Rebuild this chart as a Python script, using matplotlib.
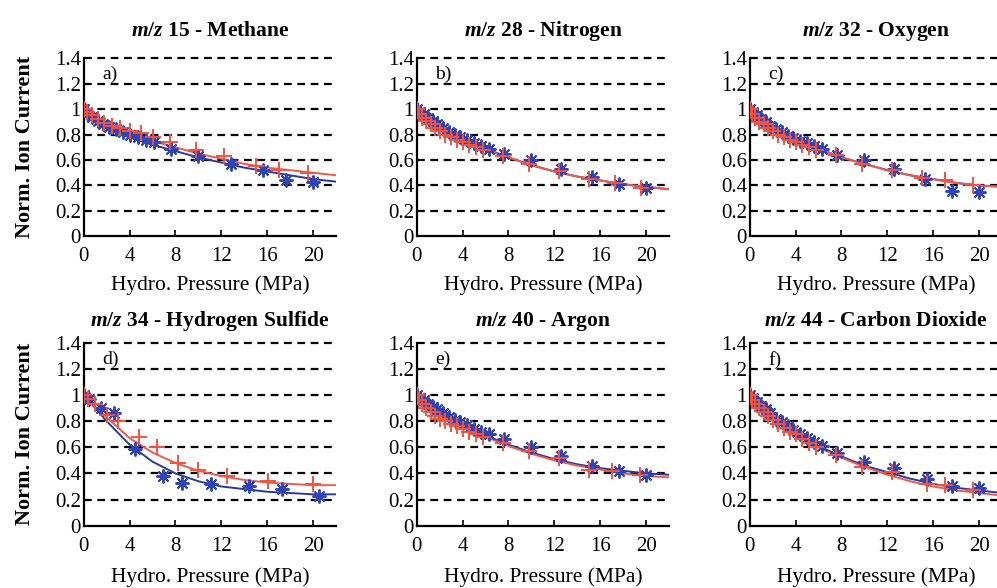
import matplotlib
matplotlib.use("Agg")
import matplotlib.pyplot as plt

plt.rcParams['font.family'] = ['Liberation Serif', 'DejaVu Serif']
plt.rcParams['mathtext.fontset'] = 'custom'
plt.rcParams['mathtext.it'] = 'Liberation Serif:italic:bold'
plt.rcParams['mathtext.rm'] = 'Liberation Serif:bold'

fit_p = [0, 1, 2, 3, 4, 6, 8, 10, 12, 14, 16, 18, 20, 22]

# a) methane
ch4_blue_p = [0, 0.3, 0.7, 1.2, 1.7, 2.2, 2.8, 3.4, 4.0, 4.7, 5.4, 6.1, 7.6, 10.0, 12.8, 15.6, 17.6, 20.0]
ch4_blue_i = [1.00, 0.97, 0.94, 0.91, 0.88, 0.86, 0.84, 0.82, 0.80, 0.78, 0.76, 0.74, 0.69, 0.63, 0.57, 0.52, 0.44, 0.43]
ch4_red_p = [0, 0.3, 0.7, 1.2, 1.8, 2.5, 3.2, 4.0, 5.0, 6.0, 7.5, 9.8, 12.2, 15.0, 17.0, 19.6]
ch4_red_i = [1.00, 0.98, 0.95, 0.92, 0.89, 0.87, 0.85, 0.83, 0.81, 0.78, 0.74, 0.68, 0.63, 0.55, 0.52, 0.50]
ch4_blue_fit = [1.00, 0.92, 0.86, 0.82, 0.78, 0.72, 0.67, 0.62, 0.58, 0.54, 0.51, 0.48, 0.45, 0.43]
ch4_red_fit = [1.00, 0.93, 0.88, 0.84, 0.81, 0.75, 0.70, 0.65, 0.61, 0.57, 0.54, 0.52, 0.50, 0.48]

# b) nitrogen
n2_blue_p = [0, 0.3, 0.6, 1.0, 1.4, 1.8, 2.3, 2.8, 3.3, 3.8, 4.4, 5.0, 5.6, 6.3, 7.6, 10.0, 12.6, 15.3, 17.6, 20.0]
n2_blue_i = [1.00, 0.98, 0.96, 0.93, 0.91, 0.88, 0.85, 0.82, 0.80, 0.78, 0.76, 0.73, 0.71, 0.69, 0.65, 0.60, 0.53, 0.47, 0.41, 0.38]
n2_red_p = [0, 0.2, 0.5, 0.8, 1.2, 1.6, 2.0, 2.5, 3.0, 3.5, 4.0, 4.6, 5.2, 5.8, 7.5, 9.8, 12.4, 15.0, 17.3, 19.6]
n2_red_i = [1.00, 0.96, 0.93, 0.91, 0.88, 0.85, 0.83, 0.80, 0.78, 0.76, 0.74, 0.72, 0.70, 0.68, 0.63, 0.57, 0.51, 0.45, 0.42, 0.38]
n2_blue_fit = [1.00, 0.92, 0.86, 0.81, 0.77, 0.69, 0.62, 0.56, 0.51, 0.47, 0.44, 0.41, 0.39, 0.37]
n2_red_fit = [1.00, 0.92, 0.85, 0.80, 0.76, 0.68, 0.62, 0.56, 0.51, 0.47, 0.44, 0.41, 0.39, 0.37]

# c) oxygen
o2_blue_p = [0, 0.3, 0.6, 1.0, 1.4, 1.8, 2.3, 2.8, 3.3, 3.8, 4.4, 5.0, 5.6, 6.3, 7.6, 10.0, 12.6, 15.3, 17.6, 20.0]
o2_blue_i = [1.00, 0.98, 0.95, 0.92, 0.90, 0.87, 0.84, 0.82, 0.79, 0.77, 0.75, 0.73, 0.71, 0.69, 0.64, 0.60, 0.53, 0.45, 0.36, 0.35]
o2_red_p = [0, 0.2, 0.5, 0.8, 1.2, 1.6, 2.0, 2.5, 3.0, 3.5, 4.0, 4.6, 5.2, 5.8, 7.5, 9.8, 12.4, 15.0, 17.0, 19.5]
o2_red_i = [1.00, 0.96, 0.93, 0.90, 0.88, 0.85, 0.83, 0.80, 0.78, 0.76, 0.74, 0.72, 0.70, 0.68, 0.64, 0.57, 0.52, 0.46, 0.44, 0.40]
o2_blue_fit = [1.00, 0.92, 0.86, 0.81, 0.76, 0.69, 0.62, 0.57, 0.52, 0.48, 0.45, 0.42, 0.40, 0.39]
o2_red_fit = [1.00, 0.92, 0.86, 0.81, 0.76, 0.69, 0.62, 0.57, 0.52, 0.48, 0.45, 0.42, 0.40, 0.39]

# d) hydrogen sulfide
h2s_blue_p = [0, 0.5, 1.5, 2.6, 4.5, 6.9, 8.6, 11.1, 14.4, 17.3, 20.5]
h2s_blue_i = [1.00, 0.97, 0.90, 0.86, 0.59, 0.38, 0.33, 0.32, 0.30, 0.28, 0.23]
h2s_red_p = [0, 0.4, 1.0, 2.0, 3.0, 4.8, 6.4, 8.2, 10.0, 12.5, 16.1, 20.0]
h2s_red_i = [1.00, 0.97, 0.93, 0.85, 0.80, 0.68, 0.60, 0.48, 0.43, 0.38, 0.34, 0.32]
h2s_blue_fit = [1.00, 0.90, 0.80, 0.71, 0.62, 0.49, 0.40, 0.34, 0.30, 0.28, 0.26, 0.25, 0.24, 0.24]
h2s_red_fit = [1.00, 0.91, 0.83, 0.75, 0.67, 0.56, 0.48, 0.42, 0.38, 0.35, 0.33, 0.32, 0.31, 0.31]

# e) argon
ar_blue_p = [0, 0.3, 0.6, 1.0, 1.4, 1.8, 2.3, 2.8, 3.3, 3.8, 4.4, 5.0, 5.6, 6.3, 7.6, 10.0, 12.6, 15.3, 17.6, 20.0]
ar_blue_i = [1.00, 0.98, 0.96, 0.93, 0.91, 0.89, 0.86, 0.83, 0.81, 0.79, 0.77, 0.74, 0.72, 0.70, 0.66, 0.60, 0.53, 0.46, 0.42, 0.39]
ar_red_p = [0, 0.2, 0.5, 0.8, 1.2, 1.6, 2.0, 2.5, 3.0, 3.5, 4.0, 4.6, 5.2, 5.8, 7.5, 9.8, 12.4, 15.0, 17.0, 19.5]
ar_red_i = [1.00, 0.96, 0.93, 0.90, 0.87, 0.84, 0.82, 0.80, 0.78, 0.76, 0.74, 0.72, 0.70, 0.68, 0.63, 0.57, 0.52, 0.43, 0.42, 0.39]
ar_blue_fit = [1.00, 0.92, 0.86, 0.81, 0.77, 0.69, 0.62, 0.56, 0.51, 0.47, 0.44, 0.42, 0.40, 0.39]
ar_red_fit = [1.00, 0.92, 0.85, 0.80, 0.76, 0.68, 0.61, 0.55, 0.50, 0.46, 0.43, 0.40, 0.38, 0.37]

# f) carbon dioxide
co2_blue_p = [0, 0.3, 0.6, 1.0, 1.4, 1.8, 2.3, 2.8, 3.3, 3.8, 4.4, 5.0, 5.6, 6.3, 7.6, 10.0, 12.6, 15.5, 17.6, 20.0]
co2_blue_i = [1.00, 0.98, 0.95, 0.92, 0.89, 0.86, 0.82, 0.79, 0.76, 0.73, 0.70, 0.67, 0.64, 0.61, 0.56, 0.49, 0.44, 0.36, 0.30, 0.29]
co2_red_p = [0, 0.2, 0.5, 0.8, 1.2, 1.6, 2.0, 2.5, 3.0, 3.5, 4.0, 4.6, 5.2, 5.8, 7.5, 9.8, 12.4, 15.5, 17.0, 19.5]
co2_red_i = [1.00, 0.96, 0.93, 0.90, 0.87, 0.84, 0.81, 0.78, 0.75, 0.72, 0.70, 0.66, 0.63, 0.60, 0.54, 0.45, 0.41, 0.32, 0.31, 0.27]
co2_blue_fit = [1.00, 0.91, 0.84, 0.77, 0.71, 0.61, 0.53, 0.46, 0.41, 0.36, 0.32, 0.29, 0.27, 0.25]
co2_red_fit = [1.00, 0.91, 0.83, 0.76, 0.70, 0.60, 0.52, 0.45, 0.39, 0.34, 0.30, 0.27, 0.25, 0.23]

titles = ['15 - Methane', '28 - Nitrogen', '32 - Oxygen',
          '34 - Hydrogen Sulfide', '40 - Argon', '44 - Carbon Dioxide']
letters = ['a)', 'b)', 'c)', 'd)', 'e)', 'f)']
panels = [
    (ch4_blue_p, ch4_blue_i, ch4_red_p, ch4_red_i, ch4_blue_fit, ch4_red_fit),
    (n2_blue_p, n2_blue_i, n2_red_p, n2_red_i, n2_blue_fit, n2_red_fit),
    (o2_blue_p, o2_blue_i, o2_red_p, o2_red_i, o2_blue_fit, o2_red_fit),
    (h2s_blue_p, h2s_blue_i, h2s_red_p, h2s_red_i, h2s_blue_fit, h2s_red_fit),
    (ar_blue_p, ar_blue_i, ar_red_p, ar_red_i, ar_blue_fit, ar_red_fit),
    (co2_blue_p, co2_blue_i, co2_red_p, co2_red_i, co2_blue_fit, co2_red_fit),
]

blue = '#2f45b5'
red = '#f2523f'
xticks = [0, 4, 8, 12, 16, 20]
yticks = [0, 0.2, 0.4, 0.6, 0.8, 1.0, 1.2, 1.4]
ylabels = ['0', '0.2', '0.4', '0.6', '0.8', '1', '1.2', '1.4']

fig = plt.figure(figsize=(9.97, 5.88), dpi=100)
lefts = [0.084, 0.418, 0.752]
rows = [(0.598, 0.303), (0.106, 0.311)]

for k in range(6):
    r, c = divmod(k, 3)
    ax = fig.add_axes([lefts[c], rows[r][0], 0.253, rows[r][1]])
    bp, bi, rp, ri, bfit, rfit = panels[k]

    for y in yticks[1:]:
        ax.axhline(y, color='black', lw=1.6, ls=(0, (3.5, 2.5)), zorder=1, clip_on=False)

    ax.plot(fit_p, bfit, color='#2a3a9a', lw=1.4, zorder=3)
    ax.plot(fit_p, rfit, color='#ee5a4c', lw=1.4, zorder=3)
    ax.plot(bp, bi, ls='none', marker=(8, 2, 0), ms=10, mew=1.4, color=blue, zorder=4)
    ax.plot(rp, ri, ls='none', marker='+', ms=11, mew=1.4, color=red, zorder=5)

    ax.set_xlim(0, 22)
    ax.set_ylim(0, 1.4)
    ax.set_xticks(xticks)
    ax.set_yticks(yticks)
    ax.set_yticklabels(ylabels)
    ax.tick_params(direction='in', length=4, width=1.2, labelsize=15)
    ax.tick_params(axis='x', pad=8)
    ax.tick_params(axis='y', pad=2)
    for s in ['top', 'right']:
        ax.spines[s].set_visible(False)
    for s in ['left', 'bottom']:
        ax.spines[s].set_linewidth(1.6)

    ax.text(1.6, 1.27, letters[k], fontsize=14, ha='left', va='center')
    ax.set_title(r'$m/z$ ' + titles[k], fontsize=15.5, fontweight='bold', pad=16 if r == 0 else 12)
    ax.set_xlabel('Hydro. Pressure (MPa)', fontsize=15.5, labelpad=6 if r == 0 else 8)
    if c == 0:
        ax.set_ylabel('Norm. Ion Current', fontsize=16, fontweight='bold', labelpad=14)

fig.savefig('out.png', dpi=100)
